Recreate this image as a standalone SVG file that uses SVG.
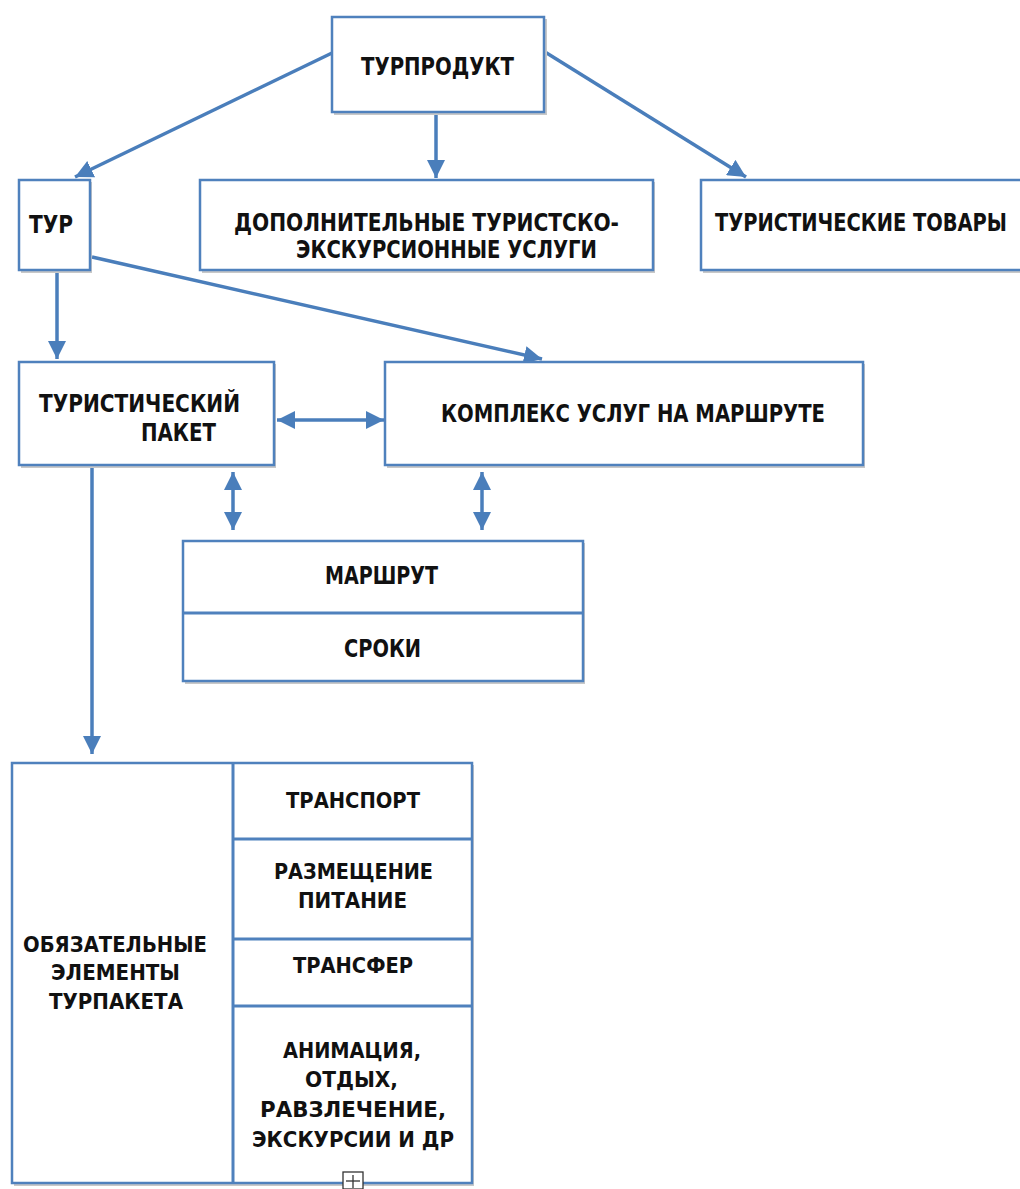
<svg xmlns="http://www.w3.org/2000/svg" width="1020" height="1189" viewBox="0 0 1020 1189">
<defs>
<style>
.box{fill:#fff;stroke:#4f81bd;stroke-width:2.5}
.sh{fill:#c8c8c8;stroke:none}
.div{stroke:#4f81bd;stroke-width:3;fill:none}
.c{stroke:#4a7ebb;stroke-width:3.5;fill:none}
.t{font-family:"DejaVu Sans Condensed","DejaVu Sans","Liberation Sans",sans-serif;font-weight:bold;font-size:24px;fill:#111;text-anchor:start}
.b{font-family:"DejaVu Sans","Liberation Sans",sans-serif;font-weight:bold;font-size:22px;fill:#111;text-anchor:start}
</style>
<marker id="ah" markerUnits="userSpaceOnUse" markerWidth="20" markerHeight="18" refX="18" refY="9" orient="auto">
<path d="M0,0 L18,9 L0,18 z" fill="#4a7ebb"/>
</marker>
<marker id="as" markerUnits="userSpaceOnUse" markerWidth="20" markerHeight="18" refX="2" refY="9" orient="auto">
<path d="M20,0 L2,9 L20,18 z" fill="#4a7ebb"/>
</marker>
</defs>
<rect width="1020" height="1189" fill="#fff"/>

<g id="connectors">
<line class="c" x1="332" y1="53" x2="75" y2="177" marker-end="url(#ah)"/>
<line class="c" x1="436" y1="113" x2="436" y2="178" marker-end="url(#ah)"/>
<line class="c" x1="545" y1="52" x2="746" y2="177" marker-end="url(#ah)"/>
<line class="c" x1="92" y1="257" x2="542" y2="359" marker-end="url(#ah)"/>
<line class="c" x1="57" y1="271" x2="57" y2="359" marker-end="url(#ah)"/>
<line class="c" x1="277" y1="420" x2="384" y2="420" marker-start="url(#as)" marker-end="url(#ah)"/>
<line class="c" x1="233" y1="472" x2="233" y2="530" marker-start="url(#as)" marker-end="url(#ah)"/>
<line class="c" x1="482" y1="472" x2="482" y2="530" marker-start="url(#as)" marker-end="url(#ah)"/>
<line class="c" x1="92" y1="466" x2="92" y2="754" marker-end="url(#ah)"/>
</g>

<g id="turprodukt">
<rect class="sh" x="334" y="19" width="213" height="96"/>
<rect class="box" x="332" y="17" width="212" height="95"/>
<text class="t" x="361" y="75" textLength="153" lengthAdjust="spacingAndGlyphs">ТУРПРОДУКТ</text>
</g>

<g id="tur">
<rect class="sh" x="21" y="182" width="71" height="91"/>
<rect class="box" x="19" y="180" width="71" height="90"/>
<text class="t" x="29" y="233" textLength="44" lengthAdjust="spacingAndGlyphs">ТУР</text>
</g>

<g id="dop">
<rect class="sh" x="202" y="182" width="453" height="91"/>
<rect class="box" x="200" y="180" width="453" height="90"/>
<text class="t" x="234" y="231" textLength="385" lengthAdjust="spacingAndGlyphs">ДОПОЛНИТЕЛЬНЫЕ ТУРИСТСКО-</text>
<text class="t" x="296" y="258" textLength="301" lengthAdjust="spacingAndGlyphs">ЭКСКУРСИОННЫЕ УСЛУГИ</text>
</g>

<g id="tovary">
<rect class="sh" x="703" y="182" width="330" height="91"/>
<rect class="box" x="701" y="180" width="330" height="90"/>
<text class="t" x="715" y="231" textLength="292" lengthAdjust="spacingAndGlyphs">ТУРИСТИЧЕСКИЕ ТОВАРЫ</text>
</g>

<g id="paket">
<rect class="sh" x="21" y="364" width="255" height="104"/>
<rect class="box" x="19" y="362" width="255" height="103"/>
<text class="t" x="39" y="412" textLength="201" lengthAdjust="spacingAndGlyphs">ТУРИСТИЧЕСКИЙ</text>
<text class="t" x="141" y="441" textLength="75" lengthAdjust="spacingAndGlyphs">ПАКЕТ</text>
</g>

<g id="kompleks">
<rect class="sh" x="387" y="364" width="478" height="104"/>
<rect class="box" x="385" y="362" width="478" height="103"/>
<text class="t" x="441" y="422" textLength="384" lengthAdjust="spacingAndGlyphs">КОМПЛЕКС УСЛУГ НА МАРШРУТЕ</text>
</g>

<g id="marshrut">
<rect class="sh" x="185" y="543" width="400" height="141"/>
<rect class="box" x="183" y="541" width="400" height="140"/>
<line class="div" x1="183" y1="613" x2="583" y2="613"/>
<text class="t" x="325" y="584" textLength="113" lengthAdjust="spacingAndGlyphs">МАРШРУТ</text>
<text class="t" x="344" y="657" textLength="77" lengthAdjust="spacingAndGlyphs">СРОКИ</text>
</g>

<g id="elementy">
<rect class="sh" x="14" y="765" width="460" height="421"/>
<rect class="box" x="12" y="763" width="460" height="420"/>
<line class="div" x1="233" y1="763" x2="233" y2="1183"/>
<line class="div" x1="233" y1="839" x2="472" y2="839"/>
<line class="div" x1="233" y1="939" x2="472" y2="939"/>
<line class="div" x1="233" y1="1006" x2="472" y2="1006"/>
<text class="b" x="23" y="952" textLength="184" lengthAdjust="spacingAndGlyphs">ОБЯЗАТЕЛЬНЫЕ</text>
<text class="b" x="51" y="980" textLength="129" lengthAdjust="spacingAndGlyphs">ЭЛЕМЕНТЫ</text>
<text class="b" x="49" y="1009" textLength="134" lengthAdjust="spacingAndGlyphs">ТУРПАКЕТА</text>
<text class="b" x="286" y="808" textLength="134" lengthAdjust="spacingAndGlyphs">ТРАНСПОРТ</text>
<text class="b" x="274" y="879" textLength="159" lengthAdjust="spacingAndGlyphs">РАЗМЕЩЕНИЕ</text>
<text class="b" x="298" y="908" textLength="109" lengthAdjust="spacingAndGlyphs">ПИТАНИЕ</text>
<text class="b" x="293" y="973" textLength="120" lengthAdjust="spacingAndGlyphs">ТРАНСФЕР</text>
<text class="b" x="283" y="1058" textLength="138" lengthAdjust="spacingAndGlyphs">АНИМАЦИЯ,</text>
<text class="b" x="305" y="1087" textLength="93" lengthAdjust="spacingAndGlyphs">ОТДЫХ,</text>
<text class="b" x="260" y="1117" textLength="186" lengthAdjust="spacingAndGlyphs">РАВЗЛЕЧЕНИЕ,</text>
<text class="b" x="252" y="1147" textLength="202" lengthAdjust="spacingAndGlyphs">ЭКСКУРСИИ И ДР</text>
<rect x="343" y="1172" width="20" height="17" fill="#fff" stroke="#333" stroke-width="1.3"/>
<line x1="353" y1="1175" x2="353" y2="1188" stroke="#333" stroke-width="1.3"/>
<line x1="346" y1="1181" x2="360" y2="1181" stroke="#333" stroke-width="1.3"/>
</g>
</svg>
